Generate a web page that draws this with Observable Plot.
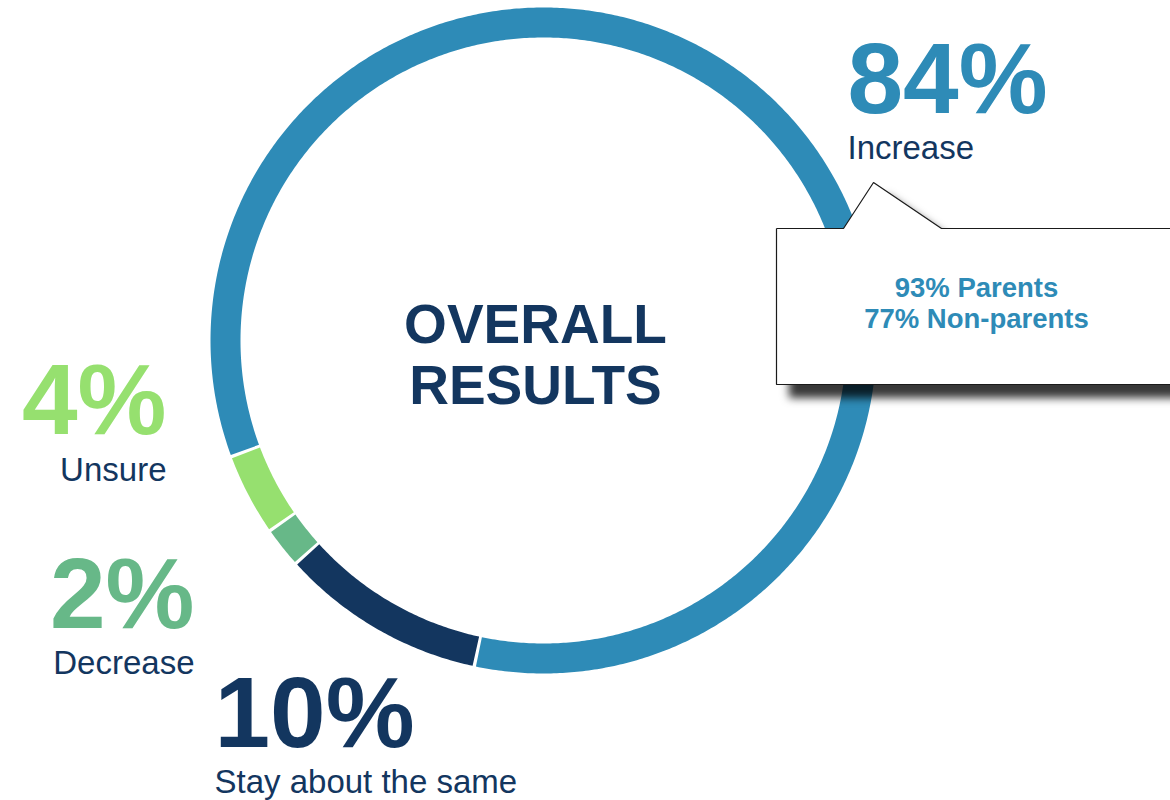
<!DOCTYPE html>
<html>
<head>
<meta charset="utf-8">
<script src="https://cdn.jsdelivr.net/npm/d3@7"></script>
<script src="https://cdn.jsdelivr.net/npm/@observablehq/plot@0.6"></script>
<style>
  body { margin: 0; background: #ffffff; }
  #chart svg { display: block; }
</style>
</head>
<body>
<div id="chart"></div>
<script>
// ---------- data ----------
const categories = ["Stay about the same", "Decrease", "Unsure", "Increase"];
const values = [10, 2, 4, 84];
const percentLabels = ["10%", "2%", "4%", "84%"];
const colors = ["#13365f", "#67b888", "#96e06f", "#2e8bb7"];
const centerTitle = ["OVERALL", "RESULTS"];
const calloutLines = ["93% Parents", "77% Non-parents"];

// ---------- layout ----------
const W = 1170, H = 800;
const CX = 543, CY = 340, R = 318, RING = 30, START = 192, GAP = 0.28;
const FONT = "'Liberation Sans', Arial, Helvetica, sans-serif";
const labelLayout = {
  "Stay about the same": { x: 214, yPct: 746, yCat: 792, anchor: "start" },
  "Decrease": { x: 194, yPct: 627, yCat: 673, anchor: "end" },
  "Unsure": { x: 166, yPct: 433, yCat: 480, anchor: "end" },
  "Increase": { x: 847, yPct: 112, yCat: 158, anchor: "start" }
};
const titleLayout = { x: 535, y: [342, 403] };
const calloutLayout = { x: 976, y: [296, 327] };
const calloutShape = [
  [776, 228], [843, 228], [873, 182], [941, 228], [1185, 228],
  [1185, 384], [776, 384], [776, 228]
];

// ---------- ring geometry from data ----------
const total = d3.sum(values);
const ringPts = [];
let cum = 0;
categories.forEach((cat, i) => {
  const a0 = START + 360 * cum / total + GAP;
  const a1 = START + 360 * (cum + values[i]) / total - GAP;
  cum += values[i];
  const n = Math.max(2, Math.ceil((a1 - a0) / 0.5));
  for (let k = 0; k <= n; k++) {
    const a = (a0 + (a1 - a0) * k / n) * Math.PI / 180;
    ringPts.push({ cat, x: CX + R * Math.sin(a), y: CY - R * Math.cos(a) });
  }
});

const rows = categories.map((c, i) => ({ cat: c, pct: percentLabels[i], ...labelLayout[c] }));
const startRows = rows.filter(d => d.anchor === "start");
const endRows = rows.filter(d => d.anchor === "end");

const pctMarks = (data, anchor) => [
  Plot.text(data, {
    x: "x", y: "yPct", text: "pct", fill: "cat",
    textAnchor: anchor, lineAnchor: "bottom",
    fontFamily: FONT, fontWeight: "bold", fontSize: 100
  }),
  Plot.text(data, {
    x: "x", y: "yCat", text: "cat", fill: "#13365f",
    textAnchor: anchor, lineAnchor: "bottom",
    fontFamily: FONT, fontSize: 33
  })
];

const plot = Plot.plot({
  width: W,
  height: H,
  margin: 0,
  x: { domain: [0, W], range: [0, W], axis: null },
  y: { domain: [0, H], range: [0, H], axis: null },
  color: { domain: categories, range: colors },
  style: { background: "white", overflow: "hidden" },
  marks: [
    Plot.line(ringPts, {
      x: "x", y: "y", z: "cat", stroke: "cat",
      strokeWidth: RING, strokeLinecap: "butt", strokeLinejoin: "round"
    }),
    Plot.line(calloutShape, {
      x: d => d[0], y: d => d[1],
      fill: "white", stroke: "#1a1a1a", strokeWidth: 1.2,
      strokeLinecap: "butt", strokeLinejoin: "miter"
    }),
    Plot.text(calloutLines, {
      x: () => calloutLayout.x, y: (d, i) => calloutLayout.y[i], text: d => d,
      fill: colors[3], textAnchor: "middle", lineAnchor: "bottom",
      fontFamily: FONT, fontWeight: "bold", fontSize: 27.5
    }),
    Plot.text(centerTitle, {
      x: () => titleLayout.x, y: (d, i) => titleLayout.y[i], text: d => d,
      fill: "#13365f", textAnchor: "middle", lineAnchor: "bottom",
      fontFamily: FONT, fontWeight: "bold", fontSize: 55, letterSpacing: -1.6
    }),
    ...pctMarks(startRows, "start"),
    ...pctMarks(endRows, "end")
  ]
});

// drop shadow on the callout box (second line mark)
const lineGroups = plot.querySelectorAll('g[aria-label="line"]');
if (lineGroups.length > 1) {
  lineGroups[1].style.filter = "drop-shadow(13px 13px 4px rgba(0,0,0,0.78))";
}

document.getElementById("chart").appendChild(plot);
</script>
</body>
</html>
